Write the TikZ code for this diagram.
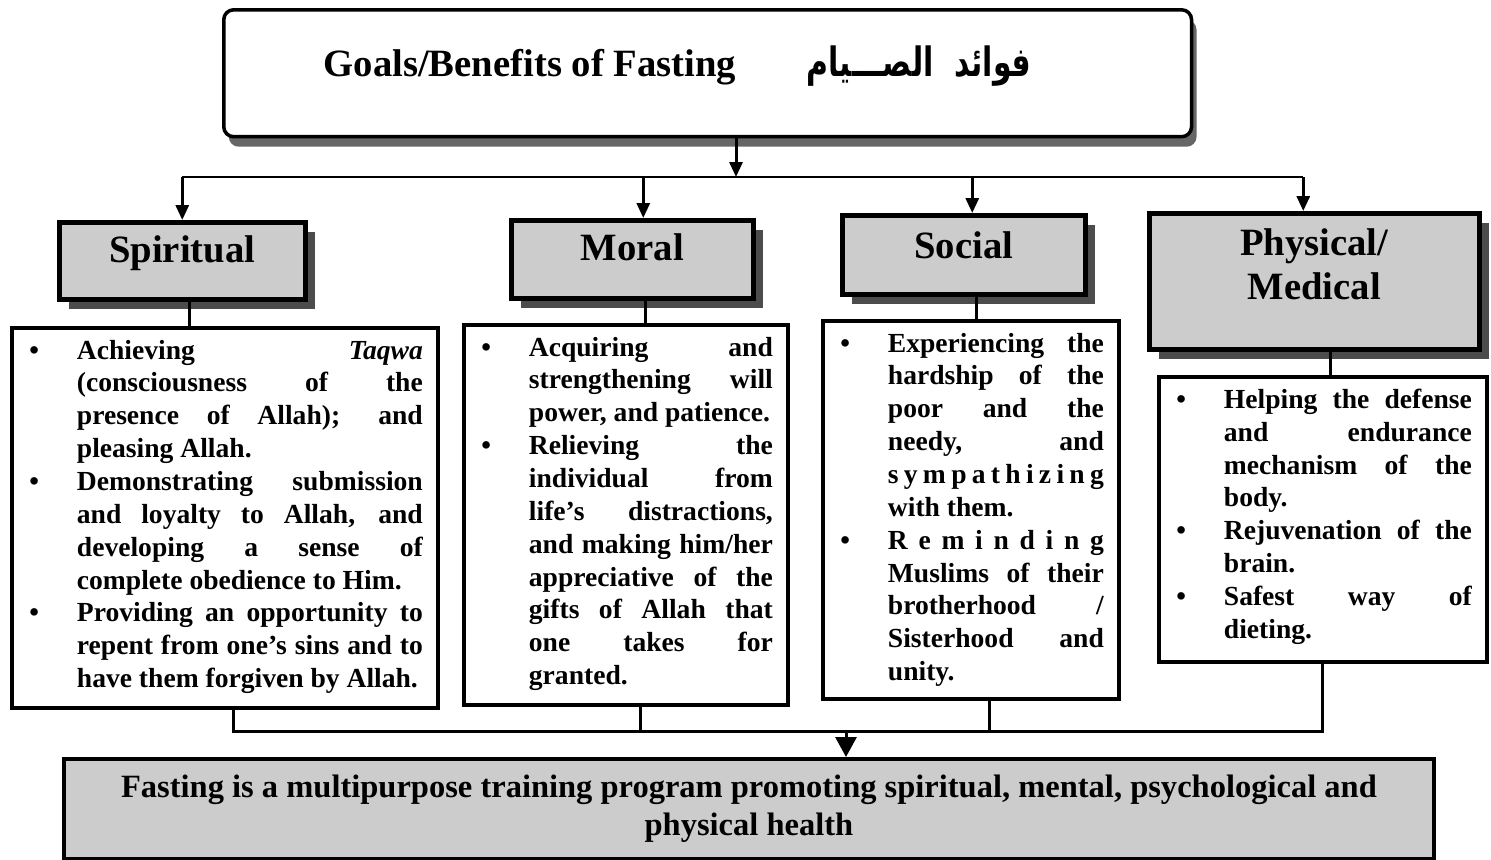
\documentclass[tikz,border=0pt]{standalone}
\usepackage{fontspec}
\setmainfont{Liberation Serif}
\newfontfamily\arabicfont[Script=Arabic]{DejaVu Sans}
\TeXXeTstate=1
\usetikzlibrary{arrows.meta,positioning,shadows}

\newlength{\bulind}
\setlength{\bulind}{1cm}
\newcommand{\listfont}{\fontsize{15.7}{18.7}\selectfont\bfseries}
\newcommand{\headfont}{\fontsize{22}{25}\selectfont\bfseries}
\newcommand{\sumfont}{\fontsize{18.5}{21.5}\selectfont\bfseries}
\newcommand{\benefit}{\par\hangindent=\bulind\hangafter=1\noindent\hbox to\bulind{\hskip0.05cm\textbullet\hfil}}
\newcommand{\spreadword}[1]{\hbox to\dimexpr\linewidth-\bulind\relax{#1}}
\newcommand{\itemtext}[3]{\parbox[c][#1][t]{#2}{\tolerance=10000\hbadness=10000 #3}}

\begin{document}
\begin{tikzpicture}[
    x=0.02cm, y=-0.02cm,
    titlebox/.style={draw, line width=2pt, rounded corners=0.2cm, fill=white, inner sep=0pt, anchor=north west, font=\headfont,
        drop shadow={shadow xshift=0.1cm, shadow yshift=-0.2cm, fill=black!60, opacity=1}},
    headbox/.style={draw, line width=2.6pt, fill=black!20, inner sep=0pt, anchor=north west, font=\headfont,
        drop shadow={shadow xshift=0.2cm, shadow yshift=-0.2cm, fill=black!70, opacity=1}},
    listbox/.style={draw, line width=2.2pt, fill=white, inner xsep=0.3cm, inner ysep=0.24cm, anchor=north west, font=\listfont},
    sumbox/.style={draw, line width=2.4pt, fill=black!20, inner sep=0pt, anchor=north west, align=center, font=\sumfont},
    conn/.style={line width=1.7pt},
    arr/.style={line width=1.7pt, -{Triangle[width=0.26cm, length=0.3cm]}},
    bigarr/.style={line width=1.7pt, -{Triangle[width=0.42cm, length=0.4cm]}}
]
\useasboundingbox (0,0) rectangle (1491,859);

\node[titlebox, minimum width=19.36cm, text height=1.34cm, text depth=1.2cm] (title) at (222,8)
    {\hbox to 19.36cm{\hskip2cm Goals/Benefits of Fasting\hfil
     \scalebox{0.74}[1]{\arabicfont\fontsize{23}{28}\selectfont\beginR فوائد\ \ الصـــيام\endR}\hskip3.2cm}};

\node[headbox, minimum width=4.92cm, text height=0.8cm, text depth=0.74cm] (spirhd) at (57,220) {Spiritual};
\node[headbox, minimum width=4.84cm, text height=0.8cm, text depth=0.76cm] (moralhd) at (509,218) {Moral};
\node[headbox, minimum width=4.86cm, text height=0.86cm, text depth=0.72cm] (sochd) at (840,213) {Social};
\node[headbox, minimum width=6.6cm, text height=1.72cm, text depth=1cm] (physhd) at (1147,211)
    {\begin{tabular}[b]{@{}c@{}}Physical/\\Medical\end{tabular}};

\node[listbox] (spirlist) at (10,326) {\itemtext{7.12cm}{7.92cm}{%
    \benefit Achieving \textit{Taqwa}\linebreak (consciousness of the\linebreak presence of Allah); and\linebreak pleasing Allah.
    \benefit Demonstrating submission\linebreak and loyalty to Allah, and\linebreak developing a sense of\linebreak complete obedience to Him.
    \benefit Providing an opportunity to\linebreak repent from one’s sins and to\linebreak have them forgiven by Allah.}};
\node[listbox] (morallist) at (462,323) {\itemtext{7.12cm}{5.88cm}{%
    \benefit Acquiring and\linebreak strengthening will\linebreak power, and patience.
    \benefit Relieving the\linebreak individual from\linebreak life’s distractions,\linebreak and making him/her\linebreak appreciative of the\linebreak gifts of Allah that\linebreak one takes for\linebreak granted.}};
\node[listbox] (soclist) at (821,319) {\itemtext{7.08cm}{5.32cm}{%
    \benefit Experiencing the\linebreak hardship of the\linebreak poor and the\linebreak needy, and\linebreak
    \spreadword{s\hfil y\hfil m\hfil p\hfil a\hfil t\hfil h\hfil i\hfil z\hfil i\hfil n\hfil g}\linebreak with them.
    \benefit \spreadword{R\hfil e\hfil m\hfil i\hfil n\hfil d\hfil i\hfil n\hfil g}\linebreak Muslims of their\linebreak brotherhood /\linebreak Sisterhood and\linebreak unity.}};
\node[listbox] (physlist) at (1157,375) {\itemtext{5.22cm}{5.96cm}{%
    \benefit Helping the defense\linebreak and endurance\linebreak mechanism of the\linebreak body.
    \benefit Rejuvenation of the\linebreak brain.
    \benefit Safest way of\linebreak dieting.}};

\node[sumbox, minimum width=27.4cm, minimum height=2cm] (summary) at (62,757)
    {Fasting is a multipurpose training program promoting spiritual, mental, psychological and\\physical health};

\coordinate (topbus) at (736,177);
\coordinate (lowbus) at (846,731);
\coordinate (spirtop) at (spirhd.north);
\coordinate (moraltop) at ([xshift=0.22cm]moralhd.north);
\coordinate (soctop) at ([xshift=0.17cm]sochd.north);
\coordinate (phystop) at ([xshift=-0.22cm]physhd.north);
\coordinate (spirlink) at ([xshift=0.14cm]spirhd.south);
\coordinate (morallink) at ([xshift=0.26cm]moralhd.south);
\coordinate (soclink) at ([xshift=0.25cm]sochd.south);
\coordinate (physlink) at ([xshift=0.32cm]physhd.south);
\coordinate (spirfoot) at ([xshift=0.18cm]spirlist.south);
\coordinate (moralfoot) at ([xshift=0.3cm]morallist.south);
\coordinate (socfoot) at ([xshift=0.38cm]soclist.south);

\draw[arr] (title.south -| topbus) -- (topbus);
\draw[conn] (spirtop |- topbus) -- (phystop |- topbus);
\draw[arr] (spirtop |- topbus) -- (spirtop);
\draw[arr] (moraltop |- topbus) -- (moraltop);
\draw[arr] (soctop |- topbus) -- (soctop);
\draw[arr] (phystop |- topbus) -- (phystop);

\draw[conn] (spirlink) -- (spirlink |- spirlist.north);
\draw[conn] (morallink) -- (morallink |- morallist.north);
\draw[conn] (soclink) -- (soclink |- soclist.north);
\draw[conn] (physlink) -- (physlink |- physlist.north);

\draw[conn] (spirfoot) |- (physlist.south |- lowbus) -- (physlist.south);
\draw[conn] (moralfoot) -- (moralfoot |- lowbus);
\draw[conn] (socfoot) -- (socfoot |- lowbus);
\draw[bigarr] (lowbus) -- (lowbus |- summary.north);
\end{tikzpicture}
\end{document}
